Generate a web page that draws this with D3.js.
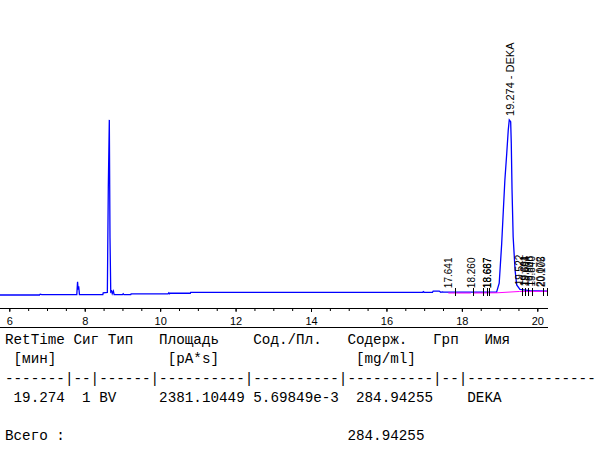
<!DOCTYPE html>
<html>
<head>
<meta charset="utf-8">
<script src="https://cdn.jsdelivr.net/npm/d3@7"></script>
<style>
  body { margin: 0; background: #fff; }
  svg { display: block; }
</style>
</head>
<body>
<svg id="chart" width="607" height="450"></svg>
<script>
// chromatogram trace (min, pA)
const times = [5.75, 6.80, 6.82, 6.86, 7.79, 7.81, 7.825, 7.84, 7.86, 8.48, 8.49, 8.60,
  8.625, 8.652, 8.67, 8.69, 8.715, 8.73, 8.76, 8.78, 9.00, 9.02, 9.04, 9.22, 9.23,
  10.21, 10.23, 10.25, 10.26, 10.80, 10.81, 16.96, 16.98, 17.00, 17.22, 17.24, 17.40,
  17.44, 17.48, 17.52, 18.92, 18.99, 19.056, 19.10, 19.14, 19.19, 19.23, 19.257,
  19.294, 19.31, 19.33, 19.36, 19.41, 19.454, 19.54, 19.80, 20.28];
const signal = [0, 0, 2, 1, 1, 30, 12, 20, 1, 1, 5, 6,
  243, 398, 130, 7, 9, 3, 9, 1, 1, 3, 1, 1, 2.5,
  2.5, 5, 3, 4, 4, 6, 6, 7.5, 6, 6, 9, 9,
  6, 7, 6.5, 6.5, 27, 117, 193, 261, 322, 375, 398,
  394, 345, 239, 132, 57, 23, 13, 10, 9];

// integration baselines [start, value, end, value]
const baselineSegs = [[17.641, 4.5, 18.24, 4.5], [18.31, 4.5, 18.93, 5], [18.93, 5, 19.53, 8], [19.53, 8, 20.28, 8.5]];
const eventTimes = [17.82, 18.30, 18.57, 18.665, 18.72, 19.59, 19.67, 19.75, 19.86, 20.15, 20.25];

const peakTimes = [17.641, 18.260, 18.667, 18.687, 19.274, 19.522, 19.661, 19.694, 19.806, 19.840, 20.072, 20.105];
const peakHeights = [6.5, 6.5, 6.5, 6.5, 398, 13, 11, 11, 10, 10, 9, 9];
const peakLabels = ["17.641", "18.260", "18.667", "18.687", "19.274 - DEKA", "19.522", "19.661",
  "19.694", "19.806", "19.840", "20.072", "20.105"];

const majorTicks = [6, 8, 10, 12, 14, 16, 18, 20];

const tableLines = [
  "RetTime Сиг Тип   Площадь    Сод./Пл.   Содерж.   Грп   Имя",
  " [мин]             [pA*s]                [mg/ml]",
  "-------|--|------|----------|----------|----------|--|---------------",
  " 19.274  1 BV     2381.10449 5.69849e-3  284.94255    DEKA",
  "",
  "Всего :                                 284.94255"
];

const svg = d3.select('#chart');

const xScale = d3.scaleLinear().domain([6, 20]).range([9.3, 537.3]);
const yScale = d3.scaleLinear().domain([0, 400]).range([295, 119]);
const xEnd = xScale.invert(548);
const axisY = 308;

// blue signal
const line = d3.line()
  .x((d, i) => xScale(times[i]))
  .y(d => yScale(d));

svg.append('path')
  .datum(signal)
  .attr('d', line)
  .attr('fill', 'none')
  .attr('stroke', '#0000ff')
  .attr('stroke-width', 1.3);

// magenta baselines
svg.selectAll('.base')
  .data(baselineSegs)
  .enter().append('line')
  .attr('x1', d => xScale(d[0]))
  .attr('y1', d => yScale(d[1]))
  .attr('x2', d => xScale(d[2]))
  .attr('y2', d => yScale(d[3]))
  .attr('stroke', '#ff00ff')
  .attr('stroke-width', 1);

// peak start/stop ticks
svg.selectAll('.evt')
  .data(eventTimes)
  .enter().append('line')
  .attr('x1', d => Math.round(xScale(d)) + 0.5)
  .attr('x2', d => Math.round(xScale(d)) + 0.5)
  .attr('y1', 288)
  .attr('y2', 296)
  .attr('stroke', '#000')
  .attr('stroke-width', 1);

// peak labels
svg.selectAll('.plabel')
  .data(peakLabels)
  .enter().append('text')
  .attr('transform', (d, i) => `translate(${xScale(peakTimes[i])},${yScale(peakHeights[i]) - 4}) rotate(-90)`)
  .attr('dominant-baseline', 'central')
  .attr('font-family', 'Liberation Sans, Arial, sans-serif')
  .attr('font-size', d => d.length > 8 ? 11 : 10)
  .attr('fill', '#000')
  .text(d => d);

// x axis
const axisG = svg.append('g').attr('transform', `translate(0,${axisY})`);
axisG.append('line')
  .attr('x1', 0).attr('x2', xScale(xEnd))
  .attr('y1', 0.5).attr('y2', 0.5)
  .attr('stroke', '#000');
axisG.append('line')
  .attr('x1', 0).attr('x2', xScale(xEnd))
  .attr('y1', 19.5).attr('y2', 19.5)
  .attr('stroke', '#000');

const minorG = axisG.append('g')
  .call(d3.axisBottom(xScale).tickValues(d3.range(6, 20.01, 0.5)).tickSize(3).tickFormat(''));
const majorG = axisG.append('g')
  .call(d3.axisBottom(xScale).tickValues(majorTicks).tickSize(4).tickPadding(4.7).tickFormat(d3.format('d')));
[minorG, majorG].forEach(g => {
  g.select('.domain').remove();
  g.selectAll('line').attr('stroke', '#000');
});
majorG.selectAll('text')
  .attr('font-family', 'Liberation Sans, Arial, sans-serif')
  .attr('font-size', 11)
  .attr('fill', '#000');

// report table
svg.append('g')
  .selectAll('text')
  .data(tableLines)
  .enter().append('text')
  .attr('x', 5)
  .attr('y', (d, i) => 344 + i * 19.25)
  .attr('font-family', 'Liberation Mono, Courier New, monospace')
  .attr('font-size', 14.28)
  .attr('fill', '#000')
  .style('white-space', 'pre')
  .text(d => d);
</script>
</body>
</html>
